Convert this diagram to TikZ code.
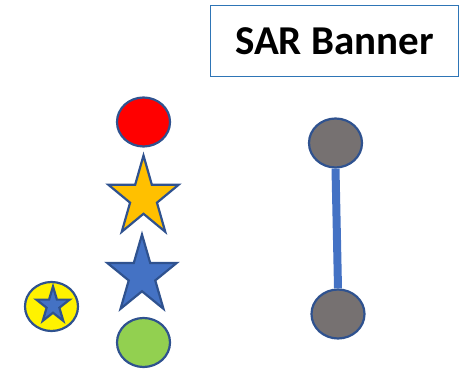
\documentclass[tikz,border=0pt]{standalone}
\usepackage{fontspec}
\setmainfont{Carlito}
\usetikzlibrary{shapes.geometric}
\definecolor{rimblue}{HTML}{2F528F}
\definecolor{starblue}{HTML}{4472C4}
\definecolor{staryellow}{HTML}{FFC000}
\definecolor{dotgreen}{HTML}{92D050}
\definecolor{dotgray}{HTML}{767171}
\definecolor{bannerblue}{HTML}{2E75B6}
\tikzset{
  dot/.style={
    ellipse,
    draw=rimblue,
    line width=2.2pt,
    minimum width=53pt,
    minimum height=49pt,
    inner sep=0pt
  },
  starshape/.style={
    star,
    star points=5,
    star point ratio=2.618,
    draw=rimblue,
    line width=2.2pt,
    inner sep=0pt,
    transform shape
  },
  banner/.style={
    draw=bannerblue,
    line width=1.8pt,
    minimum width=248pt,
    minimum height=71pt,
    font=\fontsize{41}{41}\bfseries
  }
}

\begin{document}
\begin{tikzpicture}[x=1pt,y=1pt]
  \useasboundingbox (0,0) rectangle (462,371);
  % banner
  \node[banner] (title) at (334.5,330) {SAR Banner};
  % column of markers
  \node[dot,fill=red] (redDot) at (143.5,249) {};
  \begin{scope}[shift={(143.5,173.3)},yscale=1.138]
    \node[starshape,fill=staryellow,minimum size=74pt] (goldStar) at (0,0) {};
  \end{scope}
  \begin{scope}[shift={(142,95.4)},yscale=1.124]
    \node[starshape,fill=starblue,minimum size=73pt] (blueStar) at (0,0) {};
  \end{scope}
  \node[dot,fill=dotgreen] (greenDot) at (143.5,28.5) {};
  % yellow badge
  \node[dot,fill=yellow] (badge) at (51.5,64.5) {};
  \begin{scope}[shift={(53,65.5)},yscale=1.085]
    \node[starshape,fill=starblue,minimum size=35pt] (badgeStar) at (0,0) {};
  \end{scope}
  % banner pole
  \node[dot,fill=dotgray] (poleTop) at (335.5,228) {};
  \node[dot,fill=dotgray] (poleBottom) at (338,57) {};
  \draw[starblue,line width=8pt] (poleTop.south) -- (poleBottom.north);
\end{tikzpicture}
\end{document}
